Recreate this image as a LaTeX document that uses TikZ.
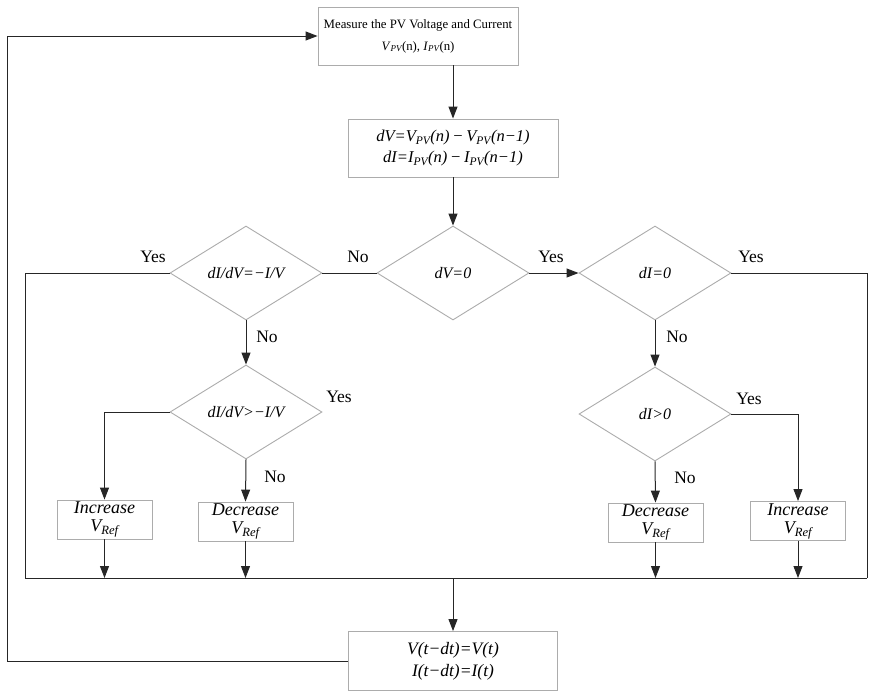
\documentclass[tikz,border=0pt]{standalone}
\usepackage{fontspec}
\setmainfont{Liberation Serif}
\usetikzlibrary{arrows.meta,positioning,shapes.geometric}
\tikzset{
  procbox/.style={rectangle, draw=gray!65, line width=0.9pt, fill=white, align=center, inner sep=0pt, font=\fontsize{12.8}{22}\selectfont},
  actbox/.style={rectangle, draw=gray!65, line width=0.9pt, fill=white, align=center, inner sep=0pt, minimum width=95pt, minimum height=39pt, font=\fontsize{18}{18}\selectfont\itshape},
  decision/.style={diamond, aspect=1.6, draw=gray!65, line width=0.9pt, fill=white, minimum width=152pt, minimum height=94pt, inner sep=0pt, font=\fontsize{16}{18}\selectfont\itshape},
  arrow/.style={-{Triangle[length=12pt,width=9pt]}, line width=1pt, black!85},
  link/.style={line width=1pt, black!85},
  answer/.style={inner sep=0pt, font=\fontsize{17.5}{19}\selectfont}
}
\newcommand{\pv}{\textsubscript{\itshape PV}}
\newcommand{\vref}{\textit{V}\textsubscript{\itshape Ref}}

\begin{document}
\begin{tikzpicture}[x=1pt, y=-1pt]
  \useasboundingbox (0,0) rectangle (869,691);
  % process boxes
  \node[procbox, minimum width=200pt, minimum height=58pt] (meas) at (418,36) {Measure the PV Voltage and Current\\ \textit{V}\pv(n), \textit{I}\pv(n)};
  \node[procbox, minimum width=210pt, minimum height=58pt, font=\fontsize{16.5}{21}\selectfont\itshape] (diff) at (453,148) {dV=V\pv(n)\,−\,V\pv(n−1)\\ dI=I\pv(n)\,−\,I\pv(n−1)};
  % decisions
  \node[decision] (slope) at (246,273) {dI/dV=−I/V};
  \node[decision] (dvz) at (453,273) {dV=0};
  \node[decision] (diz) at (655,273) {dI=0};
  \node[decision] (slopegt) at (246,412) {dI/dV>−I/V};
  \node[decision] (digt) at (655,414) {dI>0};
  % reference updates
  \node[actbox] (incl) at (104.5,519.5) {Increase\\ \vref};
  \node[actbox] (decl) at (245.5,521.5) {Decrease\\ \vref};
  \node[actbox] (decr) at (655.5,522.5) {Decrease\\ \vref};
  \node[actbox] (incr) at (798,521) {Increase\\ \vref};
  \node[procbox, minimum width=209pt, minimum height=59pt, font=\fontsize{17.5}{22}\selectfont\itshape] (upd) at (453,661) {V(t−dt)=V(t)\\ I(t−dt)=I(t)};
  % bus and corners
  \coordinate (busl) at (25,578);
  \coordinate (busr) at (867,578);
  \coordinate (yesl) at (25,273);
  \coordinate (yesr) at (867,273);
  \coordinate (fbb) at (7,661);
  \coordinate (fbt) at (7,36);
  % connectors
  \draw[arrow] (meas.south -| diff.north) -- (diff.north);
  \draw[arrow] (diff.south) -- (dvz.north);
  \draw[link] (dvz.west) -- (slope.east);
  \draw[arrow] (dvz.east) -- (diz.west);
  \draw[link] (slope.west) -- (yesl) -- (busl);
  \draw[link] (diz.east) -- (yesr) -- (busr);
  \draw[link] (busl) -- (busr);
  \draw[arrow] (slope.south) -- (slopegt.north);
  \draw[arrow] (slopegt.west) -| (incl.north);
  \draw[arrow] (slopegt.south) -- (decl.north);
  \draw[arrow] (diz.south) -- (digt.north);
  \draw[arrow] (digt.east) -| (incr.north);
  \draw[arrow] (digt.south) -- (decr.north);
  \draw[arrow] (incl.south) -- (incl.south |- busl);
  \draw[arrow] (decl.south) -- (decl.south |- busl);
  \draw[arrow] (decr.south) -- (decr.south |- busl);
  \draw[arrow] (incr.south) -- (incr.south |- busl);
  \draw[arrow] (upd.north |- busl) -- (upd.north);
  \draw[arrow] (upd.west) -- (fbb) -- (fbt) -- (meas.west);
  % branch labels
  \node[answer] (y1) at (153,257) {Yes};
  \node[answer] (n1) at (358,257) {No};
  \node[answer] (y2) at (551,257) {Yes};
  \node[answer] (y3) at (751,257) {Yes};
  \node[answer] (n2) at (267,337) {No};
  \node[answer] (y4) at (339,397) {Yes};
  \node[answer] (n3) at (275,477) {No};
  \node[answer] (n4) at (677,337) {No};
  \node[answer] (y5) at (749,399) {Yes};
  \node[answer] (n5) at (685,478) {No};
\end{tikzpicture}
\end{document}
